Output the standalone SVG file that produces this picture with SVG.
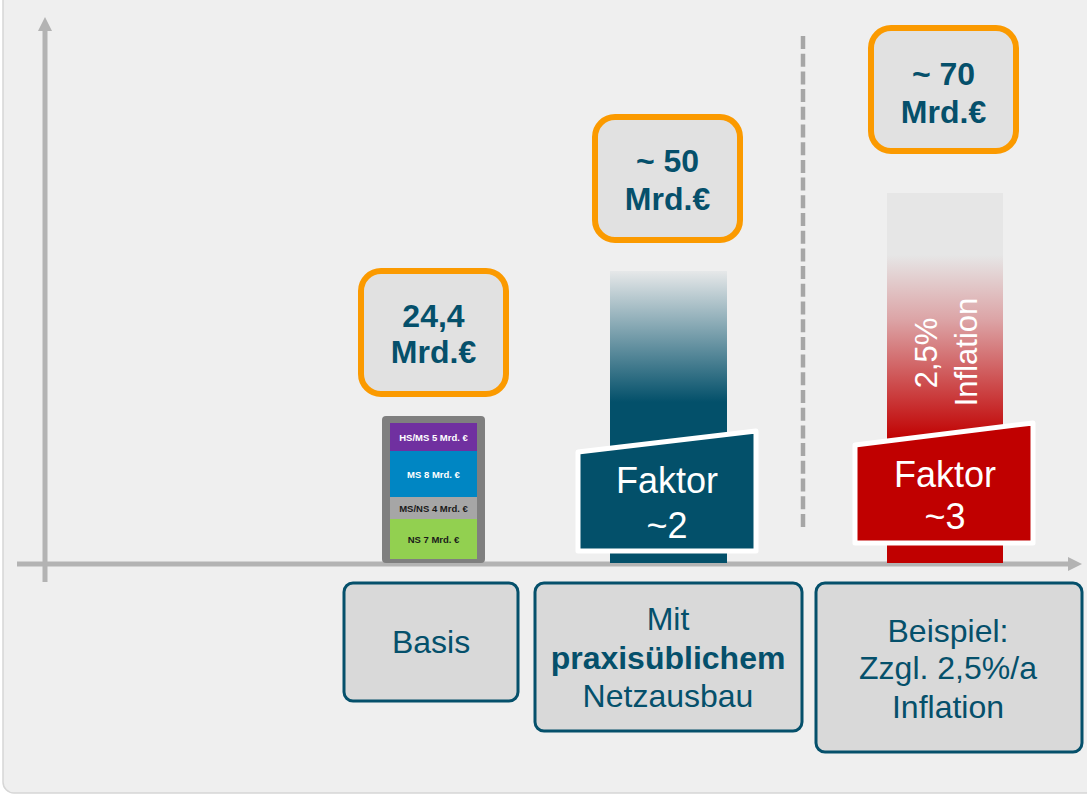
<svg xmlns="http://www.w3.org/2000/svg" width="1087" height="795" viewBox="0 0 1087 795">
  <defs>
    <linearGradient id="gradTeal" gradientUnits="userSpaceOnUse" x1="0" y1="271" x2="0" y2="402">
      <stop offset="0" stop-color="#e6e8e9"/>
      <stop offset="1" stop-color="#03506a"/>
    </linearGradient>
    <linearGradient id="gradRed" gradientUnits="userSpaceOnUse" x1="0" y1="255" x2="0" y2="440">
      <stop offset="0" stop-color="#e6e6e6"/>
      <stop offset="0.35" stop-color="#dca4a6"/>
      <stop offset="1" stop-color="#c00000"/>
    </linearGradient>
    <marker id="axisHead" viewBox="0 0 10 10" refX="0" refY="5" markerWidth="2.8" markerHeight="2.8" orient="auto" markerUnits="strokeWidth">
      <path d="M0,0 L10,5 L0,10 Z" fill="#b3b3b3"/>
    </marker>
  </defs>
  <style>
    .amount { fill: #e1e1e1; stroke: #fb9a00; stroke-width: 6; }
    .amountText { font-family: "Liberation Sans", Arial, sans-serif; font-weight: bold; font-size: 32px; fill: #05506b; text-anchor: middle; }
    .label { fill: #d9d9d9; stroke: #05506b; stroke-width: 3; }
    .labelText { font-family: "Liberation Sans", Arial, sans-serif; font-size: 32px; fill: #05506b; text-anchor: middle; }
    .factorText { font-family: "Liberation Sans", Arial, sans-serif; font-size: 36px; fill: #ffffff; text-anchor: middle; }
    .segText { font-family: "Liberation Sans", Arial, sans-serif; font-weight: bold; font-size: 9.5px; text-anchor: middle; }
    .axis { stroke: #b3b3b3; stroke-width: 5; fill: none; }
  </style>

  <!-- canvas and panel -->
  <rect x="0" y="0" width="1087" height="795" fill="#ffffff"/>
  <rect x="3" y="-20" width="1110" height="813" rx="11" fill="#efefef" stroke="#d6d6d6" stroke-width="1.5"/>

  <!-- axes and separator -->
  <g id="connectors">
    <line class="axis" x1="45" y1="582" x2="45" y2="31" marker-end="url(#axisHead)"/>
    <line class="axis" x1="17" y1="564" x2="1068" y2="564" marker-end="url(#axisHead)"/>
    <line x1="803" y1="36" x2="803" y2="528" stroke="#a6a6a6" stroke-width="4.5" stroke-dasharray="13 4.7"/>
  </g>

  <!-- base stack -->
  <g id="basis-bar">
    <rect x="382" y="416" width="103" height="147" rx="4" fill="#7f7f7f"/>
    <rect x="390" y="423" width="87" height="28" fill="#7030a0"/>
    <rect x="390" y="451" width="87" height="46" fill="#0086c3"/>
    <rect x="390" y="497" width="87" height="22" fill="#a6a6a6"/>
    <rect x="390" y="519" width="87" height="40" fill="#92d050"/>
    <text class="segText" x="433.5" y="440.5" fill="#ffffff">HS/MS 5 Mrd. €</text>
    <text class="segText" x="433.5" y="477.5" fill="#ffffff">MS 8 Mrd. €</text>
    <text class="segText" x="433.5" y="511.5" fill="#1a1a1a">MS/NS 4 Mrd. €</text>
    <text class="segText" x="433.5" y="542.5" fill="#1a1a1a">NS 7 Mrd. €</text>
  </g>

  <!-- network expansion bar -->
  <g id="ausbau-bar">
    <rect x="610" y="271" width="117" height="292" fill="url(#gradTeal)"/>
    <polygon points="578,452 756,431 756,551 578,551" fill="#03506a" stroke="#ffffff" stroke-width="5" stroke-linejoin="round"/>
    <text class="factorText" x="667" y="493">Faktor</text>
    <text class="factorText" x="667" y="538">~2</text>
  </g>

  <!-- inflation bar -->
  <g id="inflation-bar">
    <rect x="887" y="193" width="116" height="370" fill="url(#gradRed)"/>
    <text class="factorText" style="font-size:31px" transform="translate(937,353) rotate(-90)" x="0" y="0">2,5%</text>
    <text class="factorText" style="font-size:31px" transform="translate(977,352) rotate(-90)" x="0" y="0">Inflation</text>
    <polygon points="855,445 1033,423 1033,543 855,543" fill="#c00000" stroke="#ffffff" stroke-width="5" stroke-linejoin="round"/>
    <text class="factorText" x="945" y="487">Faktor</text>
    <text class="factorText" x="945" y="529">~3</text>
  </g>

  <!-- amount callouts -->
  <g id="amount-basis">
    <rect class="amount" x="361" y="271" width="145" height="123" rx="20"/>
    <text class="amountText" x="433.5" y="327">24,4</text>
    <text class="amountText" x="433.5" y="363">Mrd.€</text>
  </g>
  <g id="amount-ausbau">
    <rect class="amount" x="595" y="117" width="145" height="123" rx="20"/>
    <text class="amountText" x="667.5" y="172">~ 50</text>
    <text class="amountText" x="667.5" y="210">Mrd.€</text>
  </g>
  <g id="amount-inflation">
    <rect class="amount" x="871" y="28" width="145" height="123" rx="20"/>
    <text class="amountText" x="943.5" y="85">~ 70</text>
    <text class="amountText" x="943.5" y="123">Mrd.€</text>
  </g>

  <!-- category labels -->
  <g id="label-basis">
    <rect class="label" x="344" y="583" width="174" height="118" rx="9"/>
    <text class="labelText" x="431" y="653">Basis</text>
  </g>
  <g id="label-ausbau">
    <rect class="label" x="535" y="583" width="267" height="148" rx="9"/>
    <text class="labelText" x="668" y="630">Mit</text>
    <text class="labelText" x="668" y="669" font-weight="bold">praxisüblichem</text>
    <text class="labelText" x="668" y="707">Netzausbau</text>
  </g>
  <g id="label-inflation">
    <rect class="label" x="816" y="583" width="266" height="169" rx="9"/>
    <text class="labelText" x="948" y="642">Beispiel:</text>
    <text class="labelText" x="948" y="679">Zzgl. 2,5%/a</text>
    <text class="labelText" x="948" y="718">Inflation</text>
  </g>
</svg>
